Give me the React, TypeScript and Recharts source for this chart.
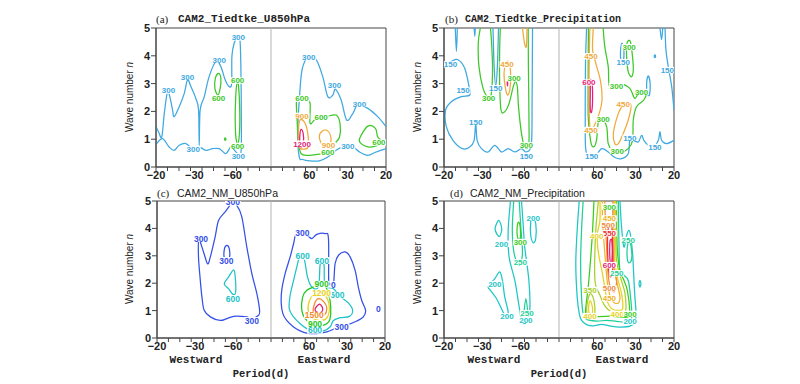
import React from 'react';
import { ComposedChart, Line, Scatter, XAxis, YAxis, ReferenceLine, ReferenceArea } from 'recharts';

type Pt = [number, number];
type Contour = { v: number; pts: Pt[] };
type Lab = { x: number; y: number; v: number; t?: string };

// x = frequency in cycles/day x 1000 (negative = westward), y = wave number n
const PERIOD_LABELS = [-20, -30, -60, 60, 30, 20];
const MINOR_TICKS = [-50, -45, -40, -35, -30, -25, -20, -15, -10, -5, 0, 5, 10, 15, 20, 25, 30, 35, 40, 45, 50];
const Y_TICKS = [0, 1, 2, 3, 4, 5];

// (a) CAM2_Tiedtke_U850hPa
const A_CONTOURS: Contour[] = [
  { v: 300, pts: [[-50, 1.45], [-48.9, 1.27], [-47.5, 1.08], [-46.4, 1.93], [-45.0, 2.71], [-44.0, 2.53], [-42.8, 2.05], [-42.1, 1.81], [-39.9, 2.17], [-37.7, 2.65], [-36.3, 3.13], [-34.8, 2.89], [-32.7, 2.47], [-31.5, 2.05], [-31.2, 0.78], [-30.8, 2.05], [-29.0, 2.53], [-26.9, 3.25], [-23.9, 3.8], [-21.8, 3.61], [-19.9, 3.13], [-18.1, 2.89], [-17.1, 3.01], [-17.0, 3.98], [-16.0, 4.46], [-14.5, 4.67], [-13.5, 4.58], [-13.1, 3.61], [-12.9, 1.81], [-13.1, 0.48], [-15.2, 0.54], [-17.4, 0.72], [-19.6, 0.48], [-22.5, 0.66], [-25.4, 0.66], [-28.3, 0.6], [-31.2, 0.72], [-33.8, 0.64], [-37.0, 0.84], [-39.9, 0.78], [-42.1, 0.6], [-44.3, 0.72], [-47.2, 1.02], [-50, 0.82]] },
  { v: 600, pts: [[-22.8, 3.37], [-21.8, 3.19], [-22.1, 2.83], [-23.1, 2.59], [-24.4, 2.83], [-24.2, 3.19], [-22.8, 3.37]] },
  { v: 600, pts: [[-14.5, 3.07], [-13.8, 2.53], [-13.6, 1.45], [-14.4, 0.84], [-15.4, 1.2], [-15.4, 2.41], [-14.5, 3.07]] },
  { v: 600, pts: [[-19.9, 1.05], [-19.6, 1.0], [-19.9, 0.96], [-20.2, 1.0], [-19.9, 1.05]] },
  { v: 300, pts: [[50, 1.45], [46.4, 1.81], [42.1, 2.11], [37.7, 2.23], [35.6, 1.93], [32.9, 1.69], [30.5, 2.41], [28.0, 2.8], [26.9, 2.59], [24.7, 2.53], [22.5, 3.25], [19.6, 3.86], [16.0, 3.95], [13.5, 3.49], [12.3, 2.41], [11.6, 1.2], [12.3, 0.36], [13.8, 0.27], [16.7, 0.22], [21.0, 0.22], [24.7, 0.36], [28.3, 0.6], [31.2, 0.72], [35.6, 0.72], [38.5, 0.54], [42.1, 0.42], [45.7, 0.54], [50, 0.66]] },
  { v: 600, pts: [[11.3, 2.47], [15.2, 2.43], [17.0, 2.29], [17.0, 1.57], [19.6, 1.75], [23.9, 1.81], [28.3, 1.87], [30.0, 1.57], [29.8, 1.08], [27.6, 0.84], [24.7, 0.54], [21.0, 0.46], [16.7, 0.42], [13.1, 0.48], [11.9, 0.96], [11.3, 1.81], [11.3, 2.47]] },
  { v: 600, pts: [[38.5, 1.02], [42.1, 1.47], [45.4, 1.39], [46.4, 1.08], [48.6, 0.9], [45.7, 0.76], [42.1, 0.72], [39.2, 0.84], [38.5, 1.02]] },
  { v: 900, pts: [[12.6, 1.69], [14.7, 1.59], [16.0, 1.2], [16.1, 0.72], [14.1, 0.64], [12.3, 0.72], [11.9, 1.2], [12.6, 1.69]] },
  { v: 900, pts: [[21.0, 1.08], [22.2, 1.29], [24.7, 1.3], [26.1, 1.02], [25.1, 0.78], [22.5, 0.78], [21.0, 1.08]] },
  { v: 1200, pts: [[13.1, 1.35], [14.0, 1.2], [14.1, 0.87], [13.1, 0.72], [12.5, 0.9], [12.6, 1.2], [13.1, 1.35]] },
];
const A_LABELS: Lab[] = [
  { x: -44.6, y: 2.75, v: 300 }, { x: -36.3, y: 3.25, v: 300 }, { x: -22.5, y: 3.86, v: 300 },
  { x: -14.2, y: 4.66, v: 300 }, { x: -14.2, y: 0.39, v: 300 }, { x: -33.8, y: 0.64, v: 300 },
  { x: -22.8, y: 2.47, v: 600 }, { x: -14.5, y: 3.11, v: 600 }, { x: -14.5, y: 0.76, v: 600 },
  { x: 16.4, y: 3.95, v: 300 }, { x: 27.6, y: 2.95, v: 300 }, { x: 38.5, y: 2.27, v: 300 }, { x: 33.4, y: 0.76, v: 300 },
  { x: 13.5, y: 2.46, v: 600 }, { x: 21.8, y: 1.81, v: 600 }, { x: 24.7, y: 0.54, v: 600 }, { x: 46.9, y: 0.88, v: 600 },
  { x: 13.5, y: 1.84, v: 900 }, { x: 25.0, y: 0.78, v: 900 }, { x: 13.5, y: 0.84, v: 1200 },
];

// (b) CAM2_Tiedtke_Precipitation
const B_CONTOURS: Contour[] = [
  { v: 150, pts: [[-50, 3.61], [-46.8, 3.8], [-43.9, 3.86], [-41.0, 3.55], [-39.1, 2.89], [-38.8, 2.59], [-42.5, 2.53], [-46.8, 2.35], [-49.3, 2.05], [-49.0, 1.45], [-46.1, 0.96], [-42.0, 0.66], [-38.8, 0.72], [-36.9, 0.96], [-36.2, 1.57], [-35.6, 0.96], [-33.7, 0.66], [-30.8, 0.54], [-27.9, 0.78], [-25.0, 0.54], [-22.1, 0.66], [-19.2, 0.54], [-16.3, 0.66], [-14.2, 0.54], [-12.0, 0.84], [-11.7, 2.41], [-11.5, 5]] },
  { v: 150, pts: [[-45.1, 5], [-44.6, 4.16], [-44.2, 5]] },
  { v: 150, pts: [[-36.9, 5], [-36.6, 4.7], [-36.4, 5]] },
  { v: 150, pts: [[-28.7, 5], [-28.2, 3.61], [-27.5, 2.92], [-26.8, 3.61], [-26.3, 5]] },
  { v: 300, pts: [[-34.2, 5], [-35.1, 4.46], [-34.8, 3.61], [-33.0, 2.83], [-30.8, 2.51], [-29.4, 2.65], [-28.9, 3.61], [-29.4, 4.58], [-29.8, 5]] },
  { v: 300, pts: [[-25.5, 5], [-25.8, 4.22], [-25.8, 3.01], [-25.2, 2.05], [-23.6, 1.99], [-21.7, 2.29], [-19.9, 2.89], [-18.9, 3.07], [-18.1, 2.87], [-17.6, 2.17], [-16.3, 1.2], [-14.9, 0.72], [-13.4, 0.72], [-13.0, 1.2], [-13.3, 3.61], [-13.4, 5]] },
  { v: 450, pts: [[-23.1, 3.73], [-21.7, 3.76], [-21.0, 3.25], [-21.4, 2.77], [-22.4, 2.59], [-23.4, 2.89], [-23.9, 3.37], [-23.1, 3.73]] },
  { v: 450, pts: [[-15.9, 5], [-15.0, 4.46], [-14.2, 4.34], [-13.9, 5]] },
  { v: 600, pts: [[-22.4, 3.1], [-22.3, 3.0], [-22.4, 2.92], [-22.5, 3.0], [-22.4, 3.1]] },
  { v: 150, pts: [[12.0, 5], [11.5, 3.61], [11.4, 1.2], [11.7, 0.6], [12.7, 0.36], [15.6, 0.36], [18.5, 0.66], [21.4, 0.54], [24.3, 0.34], [27.2, 0.3], [30.1, 0.48], [30.8, 0.96], [32.3, 0.96], [34.5, 0.9], [35.9, 1.14], [36.9, 0.96], [38.8, 0.78], [41.0, 0.72], [43.2, 0.96], [43.9, 1.27], [44.6, 0.96], [46.8, 0.84], [50, 0.96]] },
  { v: 150, pts: [[46.1, 5], [46.5, 4.22], [47.5, 3.61], [49.0, 2.89], [50, 2.05]] },
  { v: 150, pts: [[27.4, 4.46], [28.2, 4.22], [27.9, 3.8], [26.9, 3.86], [26.8, 4.22], [27.4, 4.46]] },
  { v: 150, pts: [[43.9, 5], [44.6, 4.58], [45.1, 5]] },
  { v: 150, pts: [[38.8, 3.28], [39.6, 3.01], [39.3, 2.59], [38.4, 2.65], [38.1, 3.01], [38.8, 3.28]] },
  { v: 150, pts: [[41.7, 4.03], [42.0, 3.98], [41.7, 3.93], [41.4, 3.98], [41.7, 4.03]] },
  { v: 300, pts: [[19.2, 5], [19.9, 4.34], [21.4, 3.61], [22.1, 2.87], [26.5, 2.99], [30.8, 2.83], [33.0, 2.47], [35.2, 2.75], [37.8, 2.65], [36.9, 2.41], [33.7, 2.17], [32.3, 1.69], [32.0, 0.96], [30.1, 0.66], [26.5, 0.51], [23.3, 0.58], [21.4, 0.84], [20.7, 1.45], [18.5, 1.75], [17.1, 1.63], [16.3, 0.96], [14.9, 0.72], [13.7, 0.96], [12.7, 1.81], [12.7, 3.61], [12.8, 5]] },
  { v: 300, pts: [[29.6, 4.46], [31.1, 4.48], [32.3, 3.61], [31.6, 3.25], [30.1, 3.43], [29.4, 3.98], [29.6, 4.46]] },
  { v: 450, pts: [[14.9, 5], [14.6, 4.22], [16.0, 3.73], [18.1, 3.07], [18.7, 2.41], [17.5, 1.93], [14.6, 1.39], [13.4, 1.45], [13.1, 2.41], [13.1, 3.61], [13.4, 5]] },
  { v: 450, pts: [[23.6, 1.2], [25.8, 1.93], [27.9, 2.23], [30.1, 2.35], [31.3, 2.17], [30.1, 1.69], [27.9, 1.2], [25.8, 0.84], [24.3, 0.84], [23.6, 1.2]] },
  { v: 600, pts: [[13.7, 3.13], [14.4, 3.01], [14.6, 2.41], [14.2, 1.99], [13.6, 2.05], [13.6, 2.65], [13.7, 3.13]] },
];
const B_LABELS: Lab[] = [
  { x: -47.2, y: 3.69, v: 150 }, { x: -41.7, y: 2.75, v: 150 }, { x: -36.2, y: 1.63, v: 150 },
  { x: -27.5, y: 2.83, v: 150 }, { x: -14.2, y: 0.4, v: 150 },
  { x: -30.6, y: 2.46, v: 300 }, { x: -19.5, y: 3.19, v: 300 }, { x: -14.2, y: 0.78, v: 300 },
  { x: -22.6, y: 3.69, v: 450 },
  { x: 14.2, y: 0.4, v: 150 }, { x: 30.8, y: 1.05, v: 150 }, { x: 41.7, y: 0.72, v: 150 },
  { x: 47.1, y: 3.49, v: 150 }, { x: 27.9, y: 3.77, v: 150 },
  { x: 19.2, y: 1.71, v: 300 }, { x: 25.0, y: 2.92, v: 300 }, { x: 35.9, y: 2.7, v: 300 },
  { x: 25.3, y: 0.58, v: 300 }, { x: 30.5, y: 4.31, v: 300 },
  { x: 13.9, y: 3.98, v: 450 }, { x: 13.9, y: 1.33, v: 450 }, { x: 27.9, y: 2.27, v: 450 },
  { x: 13.0, y: 3.04, v: 600 },
];

// (c) CAM2_NM_U850hPa
const C_CONTOURS: Contour[] = [
  { v: 300, pts: [[-31.6, 3.59], [-29.6, 3.14], [-27.8, 2.71], [-26.6, 2.96], [-24.5, 3.69], [-23.0, 4.29], [-20.1, 4.6], [-17.2, 4.9], [-15.0, 4.84], [-12.8, 4.42], [-10.6, 3.32], [-8.4, 2.35], [-6.2, 1.62], [-5.0, 1.01], [-5.5, 0.83], [-8.4, 0.71], [-10.6, 0.77], [-12.8, 0.79], [-16.4, 0.79], [-19.3, 0.71], [-22.3, 0.64], [-26.6, 0.77], [-29.3, 1.01], [-30.3, 1.5], [-31.0, 2.1], [-31.8, 2.96], [-31.6, 3.59]] },
  { v: 300, pts: [[-20.5, 2.93], [-20.4, 3.26], [-19.3, 3.38], [-18.3, 3.26], [-18.2, 2.93], [-19.3, 2.86], [-20.5, 2.93]] },
  { v: 600, pts: [[-16.4, 2.49], [-15.7, 2.23], [-15.5, 1.68], [-16.7, 1.59], [-18.6, 1.8], [-20.5, 1.98], [-18.6, 2.23], [-16.4, 2.49]] },
  { v: 300, pts: [[11.3, 3.83], [15.7, 3.75], [17.9, 3.63], [20.1, 3.78], [23.7, 3.81], [25.2, 3.63], [25.3, 2.1], [25.9, 1.98], [27.4, 1.98], [28.1, 2.71], [29.6, 3.02], [32.5, 3.14], [34.7, 2.96], [36.9, 2.47], [38.3, 1.86], [39.8, 1.37], [41.5, 1.01], [40.5, 0.77], [37.6, 0.62], [33.9, 0.49], [30.3, 0.4], [27.4, 0.32], [24.5, 0.22], [20.1, 0.16], [15.7, 0.18], [12.8, 0.26], [9.9, 0.4], [6.9, 0.64], [5.2, 0.89], [4.5, 1.25], [4.7, 1.74], [6.2, 2.35], [8.4, 2.96], [9.9, 3.44], [11.3, 3.83]] },
  { v: 600, pts: [[12.5, 2.93], [14.5, 2.9], [16.0, 2.23], [17.9, 1.86], [20.8, 1.86], [21.5, 2.65], [22.3, 2.77], [23.3, 2.65], [23.7, 1.92], [27.4, 1.8], [29.8, 1.56], [33.9, 1.28], [35.8, 1.01], [34.4, 0.79], [30.3, 0.74], [27.4, 0.64], [25.9, 0.4], [23.0, 0.26], [19.3, 0.26], [15.7, 0.34], [12.8, 0.52], [9.9, 0.77], [8.0, 1.07], [8.4, 1.56], [9.9, 2.1], [11.3, 2.59], [12.5, 2.93]] },
  { v: 900, pts: [[18.6, 1.86], [23.0, 1.96], [24.7, 1.74], [25.9, 1.37], [26.2, 0.89], [25.2, 0.58], [21.5, 0.44], [17.9, 0.5], [15.0, 0.71], [13.5, 1.01], [13.9, 1.5], [15.7, 1.74], [18.6, 1.86]] },
  { v: 1200, pts: [[20.1, 1.68], [23.7, 1.56], [25.5, 1.19], [24.9, 0.79], [22.3, 0.64], [18.6, 0.71], [16.4, 0.95], [16.9, 1.37], [20.1, 1.68]] },
  { v: 1500, pts: [[20.8, 1.44], [23.3, 1.31], [24.5, 1.07], [23.3, 0.83], [20.8, 0.77], [18.6, 0.91], [19.1, 1.25], [20.8, 1.44]] },
  { v: 1800, pts: [[20.1, 1.16], [21.5, 1.23], [22.7, 1.07], [22.0, 0.94], [20.1, 0.95], [19.3, 1.03], [20.1, 1.16]] },
];
const C_LABELS: Lab[] = [
  { x: -30.7, y: 3.63, v: 300 }, { x: -16.7, y: 4.95, v: 300 }, { x: -8.4, y: 0.64, v: 300 },
  { x: -19.6, y: 2.83, v: 300 }, { x: -16.7, y: 1.44, v: 600 },
  { x: 13.8, y: 3.83, v: 300 }, { x: 27.3, y: 1.95, v: 300, t: '0' }, { x: 31.0, y: 0.4, v: 300 },
  { x: 47.1, y: 1.07, v: 300, t: '0' },
  { x: 13.9, y: 2.98, v: 600 }, { x: 22.3, y: 2.83, v: 600 }, { x: 29.1, y: 1.56, v: 600 }, { x: 19.3, y: 0.28, v: 600 },
  { x: 22.2, y: 1.96, v: 900 }, { x: 19.3, y: 0.53, v: 900 },
  { x: 22.2, y: 1.64, v: 1200 }, { x: 19.0, y: 0.83, v: 1500 },
];

// (d) CAM2_NM_Precipitation
const D_CONTOURS: Contour[] = [
  { v: 200, pts: [[-26.2, 4.29], [-24.9, 3.99], [-25.8, 3.71], [-27.1, 3.81], [-27.8, 4.01], [-26.2, 4.29]] },
  { v: 200, pts: [[-30.8, 1.89], [-27.9, 2.17], [-25.8, 2.41], [-24.6, 2.1], [-23.6, 1.5], [-22.1, 0.95], [-23.1, 0.77], [-25.0, 1.07], [-27.2, 1.44], [-29.8, 1.74], [-30.8, 1.89]] },
  { v: 200, pts: [[-21.1, 5], [-22.1, 3.93], [-21.7, 2.96], [-19.2, 2.1], [-17.3, 1.13], [-16.3, 0.64], [-14.4, 0.55], [-12.7, 1.01], [-13.1, 2.1], [-14.9, 3.32], [-15.6, 4.17], [-16.3, 5]] },
  { v: 250, pts: [[-19.7, 5], [-20.3, 3.93], [-19.5, 3.08], [-17.3, 2.65], [-15.9, 3.08], [-16.6, 4.05], [-17.3, 5]] },
  { v: 250, pts: [[-15.3, 0.89], [-14.4, 1.44], [-13.5, 0.89]] },
  { v: 300, pts: [[-17.6, 4.23], [-16.8, 3.99], [-17.1, 3.56], [-18.1, 3.71], [-18.2, 4.05], [-17.6, 4.23]] },
  { v: 200, pts: [[-11.5, 4.44], [-10.1, 4.17], [-10.1, 3.63], [-11.2, 3.48], [-12.3, 3.75], [-12.3, 4.23], [-11.5, 4.44]] },
  { v: 200, pts: [[8.8, 5], [7.9, 3.93], [7.3, 2.71], [7.9, 1.5], [8.8, 0.89], [9.8, 0.64], [12.0, 0.49], [14.9, 0.44], [18.5, 0.5], [22.1, 0.44], [26.5, 0.4], [30.8, 0.43], [33.0, 0.58], [33.5, 0.89], [33.0, 1.5], [32.6, 2.1], [32.0, 3.08], [31.1, 3.75], [30.4, 3.93], [29.4, 3.75], [28.2, 3.32], [27.2, 4.05], [26.5, 5]] },
  { v: 250, pts: [[10.5, 5], [9.8, 3.93], [9.4, 2.71], [9.8, 1.5], [10.5, 0.89], [12.0, 0.68], [16.3, 0.62], [20.7, 0.64], [25.0, 0.61], [29.4, 0.58], [31.6, 0.74], [31.1, 1.5], [30.1, 2.1], [28.2, 2.29], [26.5, 2.47], [26.1, 3.32], [25.8, 5]] },
  { v: 250, pts: [[30.5, 3.5], [31.4, 3.32], [31.6, 2.9], [30.5, 2.74], [29.7, 2.9], [29.7, 3.32], [30.5, 3.5]] },
  { v: 200, pts: [[35.2, 2.1], [35.6, 1.98], [35.2, 1.86], [34.8, 1.98], [35.2, 2.1]] },
  { v: 300, pts: [[15.2, 5], [14.6, 3.93], [13.7, 2.83], [12.7, 1.86], [12.0, 1.37], [11.5, 0.89], [12.7, 0.74], [16.3, 0.77], [22.1, 0.8], [26.5, 0.77], [30.1, 0.77], [30.8, 0.95], [29.7, 1.74], [27.9, 2.17], [26.5, 2.41], [25.3, 3.32], [25.0, 5]] },
  { v: 350, pts: [[17.1, 5], [16.0, 3.93], [15.5, 2.71], [15.8, 1.98], [17.8, 1.56], [20.0, 1.16], [22.9, 0.95], [26.5, 0.89], [28.9, 0.95], [28.7, 1.62], [26.9, 2.17], [25.0, 2.83], [24.7, 3.93], [24.7, 5]] },
  { v: 350, pts: [[13.7, 1.62], [15.2, 1.37], [15.6, 0.89], [14.6, 0.74], [12.7, 0.77], [12.0, 1.07], [12.7, 1.44], [13.7, 1.62]] },
  { v: 400, pts: [[17.8, 5], [17.8, 4.29], [16.6, 3.75], [17.2, 3.08], [18.9, 2.35], [20.1, 1.74], [21.1, 1.31], [22.9, 1.07], [25.8, 1.01], [27.7, 1.07], [27.2, 1.62], [25.5, 2.17], [24.3, 2.83], [24.3, 3.93], [24.3, 5]] },
  { v: 400, pts: [[13.7, 1.35], [14.6, 1.07], [14.2, 0.86], [13.1, 0.91], [12.9, 1.19], [13.7, 1.35]] },
  { v: 450, pts: [[18.9, 5], [18.9, 4.29], [19.7, 3.32], [20.4, 2.59], [21.1, 1.98], [22.1, 1.56], [23.6, 1.31], [25.8, 1.28], [26.5, 1.5], [25.0, 2.1], [23.9, 2.71], [23.9, 3.93], [23.9, 5]] },
  { v: 500, pts: [[19.9, 5], [20.2, 4.17], [20.7, 3.32], [21.1, 2.59], [21.8, 2.04], [22.9, 1.74], [24.3, 1.72], [25.0, 2.1], [23.6, 2.71], [23.4, 3.93], [23.4, 5]] },
  { v: 550, pts: [[21.4, 3.99], [22.9, 4.05], [23.3, 3.32], [23.3, 2.47], [22.4, 2.23], [21.6, 2.47], [21.1, 3.32], [21.4, 3.99]] },
  { v: 600, pts: [[22.4, 3.59], [23.0, 3.54], [23.1, 2.96], [22.6, 2.71], [22.1, 2.96], [22.1, 3.44], [22.4, 3.59]] },
];
const D_LABELS: Lab[] = [
  { x: -25.0, y: 3.44, v: 200 }, { x: -27.9, y: 1.97, v: 200 }, { x: -22.6, y: 0.79, v: 200 },
  { x: -14.4, y: 0.66, v: 200 }, { x: -11.2, y: 4.39, v: 200 },
  { x: -16.8, y: 2.76, v: 250 }, { x: -13.9, y: 0.9, v: 250 }, { x: -16.8, y: 3.5, v: 300 },
  { x: 21.9, y: 4.79, v: 300 }, { x: 21.9, y: 4.36, v: 450 }, { x: 21.4, y: 4.12, v: 500 },
  { x: 21.9, y: 3.82, v: 550 }, { x: 16.4, y: 3.73, v: 400 }, { x: 30.1, y: 3.58, v: 250 },
  { x: 21.9, y: 2.66, v: 600 }, { x: 25.1, y: 2.36, v: 250 }, { x: 13.5, y: 1.75, v: 350 },
  { x: 21.9, y: 1.81, v: 500 }, { x: 21.9, y: 1.45, v: 450 }, { x: 13.5, y: 0.8, v: 400 },
  { x: 25.3, y: 0.88, v: 400 }, { x: 30.9, y: 0.88, v: 300 }, { x: 30.9, y: 0.6, v: 200 },
];

const COLORS_A: Record<number, string> = { 300: '#3ea8e0', 600: '#3cc828', 900: '#f0aa3c', 1200: '#e61e78' };
const COLORS_B: Record<number, string> = { 150: '#3ea8e0', 300: '#3cc828', 450: '#f0aa3c', 600: '#e61e78' };
const COLORS_C: Record<number, string> = { 300: '#3450e6', 600: '#20c2c6', 900: '#22c822', 1200: '#e8d21e', 1500: '#f08a2a', 1800: '#e01e6e' };
const COLORS_D: Record<number, string> = {
  200: '#1ec6c6', 250: '#1ecf98', 300: '#3ccc1e', 350: '#a8d028', 400: '#e6d21e',
  450: '#f0b428', 500: '#f08c3c', 550: '#f03232', 600: '#e61e78',
};

// Catmull-Rom style smoothing, closes the loop when first == last
const smoothCurve: any = (context: any) => {
  let pts: number[][] = [];
  return {
    areaStart() {},
    areaEnd() {},
    lineStart() { pts = []; },
    point(x: number, y: number) { pts.push([+x, +y]); },
    lineEnd() {
      const n = pts.length;
      if (!n) return;
      const closed = n > 3 && Math.abs(pts[0][0] - pts[n - 1][0]) < 0.01 && Math.abs(pts[0][1] - pts[n - 1][1]) < 0.01;
      const get = (i: number) => {
        if (closed) { const m = n - 1; return pts[((i % m) + m) % m]; }
        return pts[Math.max(0, Math.min(n - 1, i))];
      };
      context.moveTo(pts[0][0], pts[0][1]);
      for (let i = 0; i < n - 1; i++) {
        const p0 = get(i - 1), p1 = pts[i], p2 = pts[i + 1], p3 = get(i + 2);
        context.bezierCurveTo(
          p1[0] + (p2[0] - p0[0]) / 6, p1[1] + (p2[1] - p0[1]) / 6,
          p2[0] - (p3[0] - p1[0]) / 6, p2[1] - (p3[1] - p1[1]) / 6,
          p2[0], p2[1]
        );
      }
      if (closed) context.closePath();
    },
  };
};

const periodText = (v: number) => {
  const p = PERIOD_LABELS.find((q) => Math.abs(1000 / q - v) < 1e-6);
  if (p === undefined) return null;
  return p < 0 ? `\u2212${-p}` : String(p);
};

const XTick = (props: any) => {
  const { x, y, payload } = props;
  const v = payload.value;
  const isMinor = Math.abs(v / 5 - Math.round(v / 5)) < 1e-6;
  const txt = periodText(v);
  return (
    <g>
      {isMinor && <line x1={x} x2={x} y1={y} y2={y + 4} stroke="#444" />}
      {txt && (
        <text x={x} y={y + 12} textAnchor="middle" fontSize={11} fontWeight="bold" fill="#222" fontFamily="'Liberation Sans', Arial, sans-serif">
          {txt}
        </text>
      )}
    </g>
  );
};

const X_TICKS = Array.from(new Set([...MINOR_TICKS, ...PERIOD_LABELS.map((p) => 1000 / p)])).sort((a, b) => a - b);

type PanelProps = {
  left: number; top: number; w: number; h: number;
  contours: Contour[]; labels: Lab[]; colors: Record<number, string>; labelSize: number;
};

const Panel = ({ left, top, w, h, contours, labels, colors, labelSize }: PanelProps) => {
  const labelData = labels.map((l) => ({ x: l.x, y: l.y, v: l.v, t: l.t ?? String(l.v) }));
  const renderLabel = (p: any) => {
    const { cx, cy, payload } = p;
    const t: string = payload.t;
    const bw = t.length * labelSize * 0.58 + 1;
    return (
      <g>
        <rect x={cx - bw / 2} y={cy - labelSize * 0.4} width={bw} height={labelSize * 0.8} fill="#fff" />
        <text x={cx} y={cy} dy="0.36em" textAnchor="middle" fontSize={labelSize} fontWeight="bold" fill={colors[payload.v]} fontFamily="'Liberation Sans', Arial, sans-serif">
          {t}
        </text>
      </g>
    );
  };
  return (
    <div style={{ position: 'absolute', left: left - 56, top: top - 10 }}>
      <ComposedChart width={w + 66} height={h + 34} margin={{ top: 10, right: 10, bottom: 0, left: 0 }}>
        <XAxis type="number" dataKey="x" domain={[-50, 50]} ticks={X_TICKS} interval={0} tickSize={0} tickMargin={0}
          tickLine={false} tick={(p: any) => <XTick {...p} />} height={24} axisLine={{ stroke: '#444' }} allowDataOverflow />
        <YAxis type="number" dataKey="y" domain={[0, 5]} ticks={Y_TICKS} interval={0} width={56} tickSize={5} tickMargin={1}
          tick={{ fontSize: 11, fontWeight: 'bold', fill: '#222', fontFamily: "'Liberation Sans', Arial, sans-serif" }}
          axisLine={{ stroke: '#444' }} tickLine={{ stroke: '#444' }} allowDataOverflow />
        <ReferenceLine x={0} stroke="#b4b4b4" strokeWidth={1} />
        {contours.map((c, i) => (
          <Line key={i} data={c.pts.map((p) => ({ x: p[0], y: p[1] }))} dataKey="y" type={smoothCurve}
            stroke={colors[c.v]} strokeWidth={1.25} dot={false} activeDot={false} isAnimationActive={false} />
        ))}
        <Scatter data={labelData} dataKey="y" isAnimationActive={false} shape={renderLabel} />
        <ReferenceArea x1={-50} x2={50} y1={0} y2={5} fill="none" fillOpacity={0} stroke="#444" strokeWidth={1} />
      </ComposedChart>
    </div>
  );
};

const abs = (left: number, top: number, extra: React.CSSProperties = {}): React.CSSProperties => ({
  position: 'absolute', left, top, whiteSpace: 'nowrap', lineHeight: 1, ...extra,
});

const SERIF = "'Liberation Serif', 'DejaVu Serif', serif";
const MONO = "'Liberation Mono', 'DejaVu Sans Mono', monospace";
const SANS = "'Liberation Sans', Arial, sans-serif";

const YLabel = ({ cx, cy }: { cx: number; cy: number }) => (
  <div style={abs(cx, cy, { transform: 'translate(-50%, -50%) rotate(-90deg)', fontFamily: SANS, fontSize: 10, color: '#222' })}>
    Wave number <i>n</i>
  </div>
);

const Center = ({ cx, cy, text, size }: { cx: number; cy: number; text: string; size: number }) => (
  <div style={abs(cx, cy, { transform: 'translate(-50%, -50%)', fontFamily: MONO, fontWeight: 'bold', fontSize: size, color: '#222' })}>
    {text}
  </div>
);

const App: React.FC = () => {
  return (
    <div style={{ position: 'fixed', left: 0, top: 0, width: 800, height: 384, background: '#fff', overflow: 'hidden' }}>
      <Panel left={156} top={28} w={230} h={139} contours={A_CONTOURS} labels={A_LABELS} colors={COLORS_A} labelSize={8} />
      <Panel left={444} top={28} w={230} h={139} contours={B_CONTOURS} labels={B_LABELS} colors={COLORS_B} labelSize={8} />
      <Panel left={157} top={201} w={228} h={137} contours={C_CONTOURS} labels={C_LABELS} colors={COLORS_C} labelSize={8.5} />
      <Panel left={444} top={201} w={230} h={137} contours={D_CONTOURS} labels={D_LABELS} colors={COLORS_D} labelSize={8} />

      <div style={abs(156, 14, { fontFamily: SERIF, fontSize: 11, color: '#222' })}>(a)</div>
      <div style={abs(178, 14, { fontFamily: MONO, fontWeight: 'bold', fontSize: 11, color: '#222' })}>CAM2_Tiedtke_U850hPa</div>
      <div style={abs(445, 14, { fontFamily: SERIF, fontSize: 11, color: '#222' })}>(b)</div>
      <div style={abs(465, 15, { fontFamily: MONO, fontWeight: 'bold', fontSize: 10, color: '#222' })}>CAM2_Tiedtke_Precipitation</div>
      <div style={abs(157, 188, { fontFamily: SERIF, fontSize: 11, color: '#222' })}>(c)</div>
      <div style={abs(177, 188, { fontFamily: SANS, fontSize: 10.5, color: '#222' })}>CAM2_NM_U850hPa</div>
      <div style={abs(450, 188, { fontFamily: SERIF, fontSize: 11, color: '#222' })}>(d)</div>
      <div style={abs(470, 188, { fontFamily: SANS, fontSize: 10.5, color: '#222' })}>CAM2_NM_Precipitation</div>

      <YLabel cx={130} cy={97} />
      <YLabel cx={418} cy={97} />
      <YLabel cx={130} cy={269} />
      <YLabel cx={418} cy={269} />

      <Center cx={196} cy={360} text="Westward" size={11} />
      <Center cx={324} cy={360} text="Eastward" size={11} />
      <Center cx={261} cy={374} text="Period(d)" size={10.5} />
      <Center cx={494} cy={360} text="Westward" size={11} />
      <Center cx={622} cy={360} text="Eastward" size={11} />
      <Center cx={559} cy={374} text="Period(d)" size={10.5} />
    </div>
  );
};

export default App;
